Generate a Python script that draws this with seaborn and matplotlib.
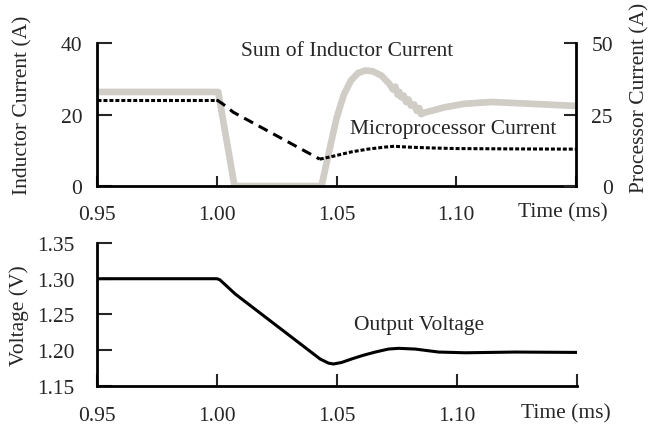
import matplotlib
matplotlib.use('Agg')
import matplotlib.pyplot as plt
import seaborn as sns
import numpy as np
import pandas as pd

sns.set_style("white")
plt.rcParams['font.family'] = ['Liberation Serif', 'DejaVu Serif']
plt.rcParams['font.size'] = 15.5

# time axis (ms)
time_ticks = [0.95, 1.00, 1.05, 1.10, 1.15]
time_labels = ['0.95', '1.00', '1.05', '1.10', '']

# sum of inductor current (A, left axis)
ind_t = [0.950, 1.0006, 1.0074, 1.0437, 1.0470, 1.0500, 1.0530, 1.0560, 1.0590,
         1.0620, 1.0650, 1.0687, 1.0720, 1.0735, 1.0745, 1.0755, 1.0762, 1.0770,
         1.0780, 1.0790, 1.0800, 1.0810, 1.0824, 1.0835, 1.0845, 1.0853, 1.0870,
         1.0895, 1.0950, 1.1033, 1.1145, 1.1310, 1.1500]
ind_i = [26.3, 26.3, 0.0, 0.0, 10.0, 19.0, 25.5, 29.5, 31.6,
         32.3, 32.1, 30.9, 28.6, 27.0, 27.8, 25.5, 26.3, 24.8,
         25.3, 23.5, 24.2, 22.5, 22.8, 21.0, 21.8, 20.1, 20.6,
         21.0, 22.0, 23.0, 23.5, 23.0, 22.4]

# microprocessor current (A, right axis), three pieces
proc_steady_t = [0.950, 1.000]
proc_steady_i = [30.1, 30.1]
proc_ramp_t = [1.000, 1.0025, 1.0069, 1.0430]
proc_ramp_i = [30.1, 28.7, 25.8, 9.4]
proc_recov_t = [1.0430, 1.0490, 1.0560, 1.0630, 1.0700, 1.0740, 1.0800,
                1.0900, 1.1000, 1.1200, 1.1500]
proc_recov_i = [9.4, 10.5, 11.9, 12.9, 13.6, 13.9, 13.6, 13.3, 13.1, 13.0, 12.9]

# output voltage (V)
volt_t = [0.950, 1.000, 1.0012, 1.0030, 1.0076, 1.0430, 1.0465, 1.0486, 1.0520,
          1.0563, 1.0610, 1.0660, 1.0715, 1.0757, 1.0826, 1.0924, 1.1035, 1.1243,
          1.1500]
volt_v = [1.300, 1.300, 1.2985, 1.2930, 1.2787, 1.1878, 1.182, 1.1808, 1.1830,
          1.188, 1.193, 1.1975, 1.2017, 1.2027, 1.2017, 1.1975, 1.1965, 1.1975,
          1.1970]

proc = pd.concat([
    pd.DataFrame({'t': proc_steady_t, 'i': proc_steady_i, 'seg': 'steady'}),
    pd.DataFrame({'t': proc_ramp_t, 'i': proc_ramp_i, 'seg': 'ramp'}),
    pd.DataFrame({'t': proc_recov_t, 'i': proc_recov_i, 'seg': 'recov'}),
])

fig = plt.figure(figsize=(6.51, 4.31), dpi=100)
ax1 = fig.add_axes([0.149, 0.566, 0.736, 0.332])
ax2 = ax1.twinx()
ax3 = fig.add_axes([0.149, 0.102, 0.737, 0.332])

grey = '#d0ccc6'
sns.lineplot(x=ind_t, y=ind_i, ax=ax1, color=grey, lw=4.8)
sns.lineplot(data=proc, x='t', y='i', style='seg', ax=ax2, color='black', lw=2.2,
             dashes={'steady': (1.3, 0.65), 'ramp': (3.3, 2.1), 'recov': (1.3, 0.65)},
             legend=False, sort=False, estimator=None)
sns.lineplot(x=volt_t, y=volt_v, ax=ax3, color='black', lw=2.2)

for ax in (ax1, ax2, ax3):
    ax.set_xlim(0.95, 1.15)
    ax.set_xlabel('')
    ax.set_ylabel('')
    for s in ax.spines.values():
        s.set_linewidth(2)
        s.set_color('black')
    ax.spines['top'].set_visible(False)

ax1.set_ylim(0, 40)
ax1.set_yticks([0, 20, 40])
ax1.spines['right'].set_visible(False)
ax2.set_ylim(0, 50)
ax2.set_yticks([0, 25, 50])
ax2.spines['left'].set_visible(False)
ax2.spines['bottom'].set_visible(False)
ax3.set_ylim(1.15, 1.35)
ax3.set_yticks([1.15, 1.20, 1.25, 1.30, 1.35])
ax3.set_yticklabels(['1.15', '1.20', '1.25', '1.30', '1.35'])
ax3.spines['right'].set_visible(False)

for ax in (ax1, ax3):
    ax.set_xticks(time_ticks)
    ax.set_xticklabels(time_labels)

ax1.tick_params(axis='x', direction='in', length=7, width=1.5, pad=13.5, bottom=True)
ax1.tick_params(axis='y', direction='in', length=11, width=1.5, pad=10.5, left=True)
ax2.tick_params(axis='y', direction='in', length=8.5, width=1.5, pad=26.5, right=True)
for lab in ax2.get_yticklabels():
    lab.set_ha('right')
ax3.tick_params(axis='x', direction='in', length=8.5, width=1.5, pad=14.5, bottom=True)
ax3.tick_params(axis='y', direction='in', length=11, width=1.5, pad=16, left=True)

ax1.text(1.0545, 37.8, 'Sum of Inductor Current', ha='center', va='center')
ax1.text(1.0985, 16.2, 'Microprocessor Current', ha='center', va='center')
ax3.text(1.0841, 1.2367, 'Output Voltage', ha='center', va='center')

fig.text(563 / 651, 1 - 213 / 431, 'Time (ms)', ha='center', va='center')
fig.text(566 / 651, 1 - 414 / 431, 'Time (ms)', ha='center', va='center')
fig.text(23 / 651, 1 - 105 / 431, 'Inductor Current (A)', rotation=90, ha='center', va='center')
fig.text(640 / 651, 1 - 98 / 431, 'Processor Current (A)', rotation=90, ha='center', va='center')
fig.text(19 / 651, 1 - 316 / 431, 'Voltage (V)', rotation=90, ha='center', va='center')

plt.savefig('out.png', dpi=100)
plt.close(fig)
